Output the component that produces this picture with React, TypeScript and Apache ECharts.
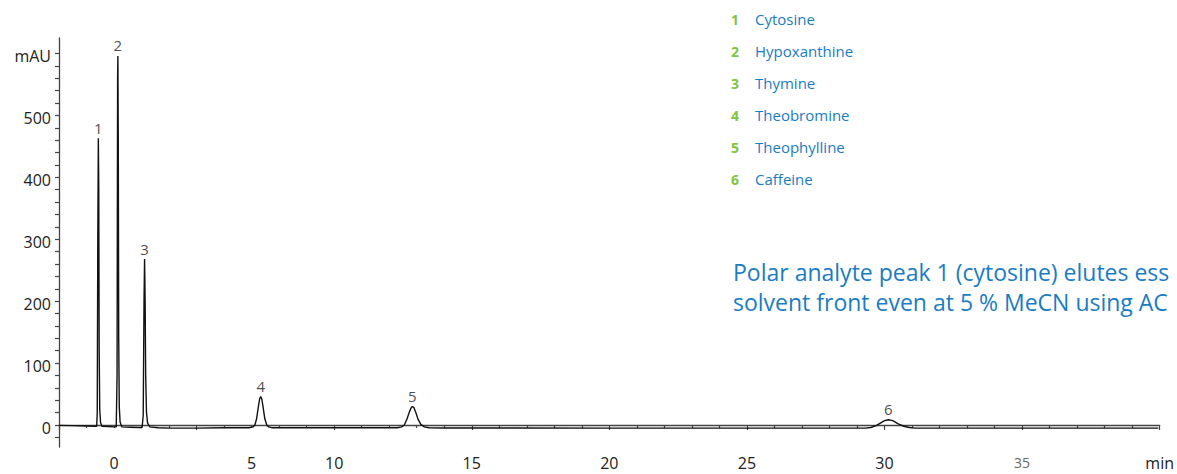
import React, { useEffect, useRef } from "react";
import * as echarts from "echarts";

// Chromatogram trace: retention time (min) and absorbance (mAU)
const chromTime = [
  0, 0.5, 1.0, 1.3,
  1.37, 1.39, 1.41, 1.43, 1.445, 1.46, 1.48, 1.51, 1.56,
  1.8, 2.0,
  2.08, 2.11, 2.13, 2.14, 2.155, 2.17, 2.19, 2.22, 2.28,
  2.6, 2.9,
  3.02, 3.06, 3.09, 3.11, 3.13, 3.15, 3.18, 3.22, 3.3,
  3.6, 4.0, 5.0, 6.0, 6.9,
  7.05, 7.12, 7.18, 7.24, 7.29, 7.33, 7.37, 7.42, 7.48, 7.55, 7.62, 7.75,
  10.0, 12.3,
  12.45, 12.55, 12.65, 12.74, 12.8, 12.84, 12.9, 12.97, 13.05, 13.15, 13.28, 13.45,
  14.0, 20.0, 25.0, 29.3,
  29.5, 29.7, 29.85, 30.0, 30.14, 30.3, 30.5, 30.7, 30.9, 31.1,
  35.0, 39.95,
];
const chromSignal = [
  -0.6, -1.0, -1.5, -2.0,
  -2, 20, 300, 463, 380, 120, 25, 4, -2,
  -2.5, -3,
  -3, 80, 560, 596, 450, 140, 30, 5, -3,
  -3.5, -4,
  -4, 15, 200, 268, 200, 80, 20, 3, -3,
  -4.5, -5, -5, -4.5, -4.5,
  -3, 0, 10, 28, 42, 46, 42, 28, 10, 0, -3, -4.5,
  -4.5, -4.5,
  -3, 0, 10, 22, 28, 30, 28, 20, 9, 1, -3, -4.5,
  -4.8, -5, -5, -5,
  -4, -1, 3, 7, 8.5, 7, 2, -2, -4, -5,
  -5, -5,
];

const peakNumbers = ["1", "2", "3", "4", "5", "6"];
const peakTimes = [1.43, 2.14, 3.11, 7.33, 12.84, 30.14];
const peakHeights = [463, 596, 268, 46, 30, 8.5];
const compoundNames = ["Cytosine", "Hypoxanthine", "Thymine", "Theobromine", "Theophylline", "Caffeine"];

const xLabelValues = [2, 7, 10, 15, 20, 25, 30, 35, 40];
const xLabelTexts = ["0", "5", "10", "15", "20", "25", "30", "35", "min"];
const yTickValues = [
  -20, 0, 20, 40, 60, 80, 100, 120, 140, 160, 180, 200, 220, 240, 260, 280, 300,
  320, 340, 360, 380, 400, 420, 440, 460, 480, 500, 520, 540, 560, 580, 600,
];
const yLabelValues = [0, 100, 200, 300, 400, 500, 600];
const yLabelTexts = ["0", "100", "200", "300", "400", "500", "mAU"];
const noteLines = [
  "Polar analyte peak 1 (cytosine) elutes ess",
  "solvent front even at 5 % MeCN using AC",
];

const FONT = "'Open Sans', 'Noto Sans', sans-serif";
const GREEN = "#82c341";
const BLUE = "#1a7cc4";

export default function App() {
  const ref = useRef<HTMLDivElement>(null);

  useEffect(() => {
    if (!ref.current) return;
    const chart = echarts.init(ref.current, undefined, { renderer: "svg" });

    const line = chromTime.map((t, i) => [t, chromSignal[i]]);
    const peaks = peakTimes.map((t, i) => ({ value: [t, peakHeights[i]], name: peakNumbers[i] }));

    const graphics: any[] = [];
    compoundNames.forEach((name, i) => {
      const y = 19 + i * 32;
      graphics.push({
        type: "text",
        x: 735,
        y,
        style: {
          text: peakNumbers[i],
          fill: GREEN,
          fontFamily: FONT,
          fontSize: 14,
          fontWeight: "bold",
          align: "center",
          verticalAlign: "middle",
        },
      });
      graphics.push({
        type: "text",
        x: 755,
        y,
        style: {
          text: name,
          fill: BLUE,
          fontFamily: FONT,
          fontSize: 15,
          align: "left",
          verticalAlign: "middle",
        },
      });
    });
    noteLines.forEach((txt, i) => {
      graphics.push({
        type: "text",
        x: 733,
        y: 272 + i * 30,
        style: {
          text: txt,
          fill: BLUE,
          fontFamily: FONT,
          fontSize: 23,
          align: "left",
          verticalAlign: "middle",
        },
      });
    });

    chart.setOption({
      animation: false,
      backgroundColor: "#ffffff",
      textStyle: { fontFamily: FONT },
      grid: { left: 59, right: 16, top: 38, bottom: 27, containLabel: false },
      xAxis: {
        type: "value",
        min: 0,
        max: 40,
        interval: 5,
        axisLine: { show: true, lineStyle: { color: "#444", width: 1.3 } },
        axisTick: { show: true, length: 5, lineStyle: { color: "#444", width: 1.2 } },
        minorTick: { show: true, splitNumber: 5, length: 3, lineStyle: { color: "#444", width: 1.2 } },
        splitLine: { show: false },
        axisLabel: {
          customValues: xLabelValues,
          margin: 8,
          fontSize: 16,
          color: "#222",
          fontFamily: FONT,
          hideOverlap: false,
          formatter: (v: number) => {
            const i = xLabelValues.findIndex((p) => Math.abs(p - v) < 1e-6);
            const t = i >= 0 ? xLabelTexts[i] : "";
            return t === "35" ? "{g|" + t + "}" : t;
          },
          rich: { g: { fontSize: 14, color: "#666", fontFamily: FONT } },
        },
      },
      yAxis: {
        type: "value",
        min: -35.5,
        max: 625,
        axisLine: { show: true, lineStyle: { color: "#444", width: 1.3 } },
        axisTick: { show: true, customValues: yTickValues, length: 4, lineStyle: { color: "#444", width: 1.2 } },
        splitLine: { show: false },
        axisLabel: {
          customValues: yLabelValues,
          margin: 8,
          fontSize: 16,
          color: "#222",
          fontFamily: FONT,
          hideOverlap: false,
          formatter: (v: number) => {
            const i = yLabelValues.findIndex((p) => Math.abs(p - v) < 1e-6);
            return i >= 0 ? "{a|" + yLabelTexts[i] + "}" : "";
          },
          rich: {
            a: { fontSize: 16, color: "#222", fontFamily: FONT, padding: [6, 0, 0, 0] },
          },
        },
      },
      series: [
        {
          type: "line",
          data: line,
          showSymbol: false,
          symbol: "none",
          lineStyle: { color: "#111", width: 1.4 },
          silent: true,
          z: 3,
        },
        {
          type: "scatter",
          data: peaks,
          symbolSize: 0,
          silent: true,
          label: {
            show: true,
            position: "top",
            distance: 3,
            formatter: (p: any) => p.name,
            fontSize: 15,
            color: "#1a1a1a",
            fontFamily: FONT,
          },
          z: 4,
        },
      ],
      graphic: graphics,
    });

    return () => chart.dispose();
  }, []);

  return (
    <div
      ref={ref}
      style={{ position: "fixed", left: 0, top: 0, width: 1177, height: 474, background: "#fff" }}
    />
  );
}
